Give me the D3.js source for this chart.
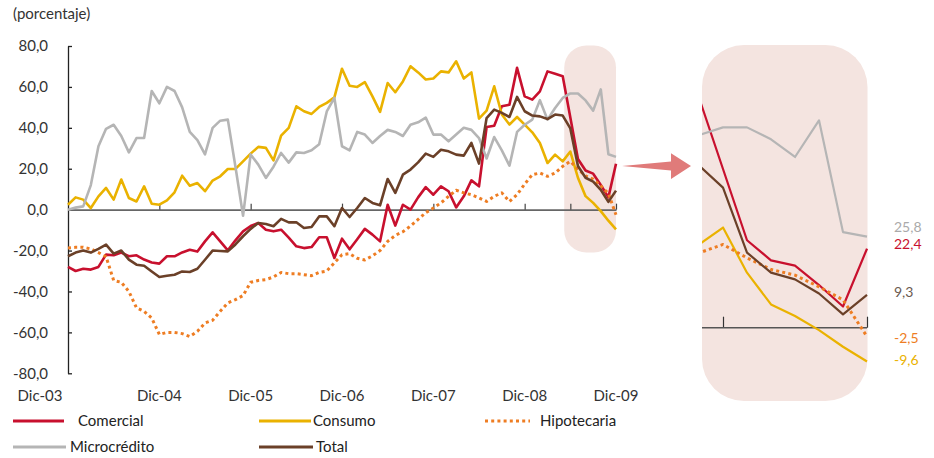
<!DOCTYPE html>
<html>
<head>
<meta charset="utf-8">
<script src="https://cdn.jsdelivr.net/npm/d3@7"></script>
<style>
  body { margin: 0; background: #fff; }
  svg { font-family: Lato, "Open Sans", sans-serif; }
</style>
</head>
<body>
<div id="vis"></div>
<script>
// monthly series, Dic-03 .. Dic-09 (73 months)
const comercial = [-28, -30, -28.9, -29.3, -28, -22, -22.3, -21, -22.8, -22.3, -24.4, -25.8,
  -26.4, -22.8, -22.8, -20.9, -19.6, -20.5, -15.5, -11.1, -15.5, -19.9, -15, -10.6,
  -8, -6.5, -9.8, -10.6, -9.8, -13.7, -17.9, -18.8, -18.3, -13.5, -13.5, -23.6,
  -14.2, -19.4, -14.5, -9.4, -12.2, -15.5, 2.4, -7.8, 2.4, 0, 6, 11,
  7.3, 11.4, 9, 1.1, 6.5, 14.3, 11.4, 40.4, 41, 50.5, 51.3, 69.3,
  55.4, 53.8, 57.8, 67.6, 66.4, 65.2, 45, 24.8, 19.1, 17.6, 12.1, 6, 22.4];
const consumo = [2.4, 6, 4.9, 0.8, 6.5, 10.6, 4.9, 14.7, 5.7, 4, 11.4, 2.9,
  2.4, 4.5, 8.5, 16.6, 11.7, 13, 9, 14.2, 16.3, 19.9, 19.9, 23.6,
  27.4, 30.7, 30.2, 24.1, 36.2, 40, 50.5, 48.1, 46.8, 50.2, 52.2, 54.9,
  68.9, 60.6, 60, 62.3, 55.4, 47.8, 61.9, 57.4, 62.7, 70.1, 67.1, 63.6,
  64.1, 67.6, 67.1, 72.5, 64.1, 67.1, 44.5, 48.4, 60.3, 46.5, 41.6, 45.3,
  41.6, 37.8, 32.6, 22.8, 26.9, 23.6, 28.4, 15.6, 6.6, 3.3, -0.7, -5.4, -9.6];
const hipotecaria = [-18.7, -18.4, -18.4, -19.2, -21, -23, -34.6, -35.5, -40, -48, -49.7, -53,
  -61, -60, -60, -60.6, -62, -59.5, -55.4, -54.1, -49.7, -45.6, -44, -42,
  -35.5, -34.6, -34.2, -32.9, -30.7, -31.3, -31.3, -31.8, -32.3, -30.7, -30, -26,
  -22, -21.5, -23.8, -24.6, -22.6, -20, -15.5, -12.6, -10.8, -8, -4.8, -1.5,
  0.8, 3.3, 6.5, 9.5, 8.2, 7.3, 5.7, 4, 6.5, 8.2, 4, 7.3,
  12.5, 17.1, 17.9, 16.3, 17.9, 21.2, 23.6, 19.8, 16.5, 14.9, 11.6, 7.9, -2.5];
const microcredito = [0, 1, 1.6, 12, 31, 39.5, 41.5, 36, 28, 35, 35, 58,
  52, 60, 58, 50, 38, 34, 27, 40, 43.5, 44, 21, -3,
  27, 22, 15.5, 21, 27.7, 23, 28, 27.7, 29, 32, 48, 54.6,
  31, 29, 38, 36.7, 32.6, 36, 39, 38, 36, 41.5, 42.7, 45,
  36.7, 36.7, 33.4, 36.7, 40, 39, 35, 25, 35.5, 29, 21.5, 38,
  41.5, 44, 53.5, 44, 49.7, 54.6, 56.8, 56.8, 53.4, 48.4, 58.8, 27.1, 25.8];
const total = [-22.8, -21, -20, -21, -19.2, -17.1, -21.5, -20, -24.4, -26.9, -27.4, -30.2,
  -32.9, -32.3, -31.8, -30.2, -30.5, -28.9, -24.5, -20, -20.2, -20.4, -17, -13,
  -9.4, -6.5, -7, -8.1, -4.5, -6.2, -6.2, -9, -8.5, -3.3, -3.3, -8.1,
  0.8, -3.6, 0.8, 5.7, 3.3, 2.1, 15, 8.2, 17.1, 19.6, 23.1, 27.4,
  25.8, 29.3, 28.5, 26.9, 26.4, 32.6, 22.5, 44.8, 48.9, 47.3, 45.3, 55.1,
  48.1, 46, 45.6, 44.3, 46.5, 46, 39.7, 21.3, 15.6, 13.7, 9.7, 3.8, 9.3];

const seriesNames = ["Comercial", "Consumo", "Hipotecaria", "Microcrédito", "Total"];
const xLabels = ["Dic-03", "Dic-04", "Dic-05", "Dic-06", "Dic-07", "Dic-08", "Dic-09"];
const yTicks = [-80, -60, -40, -20, 0, 20, 40, 60, 80];

const series = [
  { name: seriesNames[0], values: comercial, color: "#c8102e", dash: null },
  { name: seriesNames[1], values: consumo, color: "#eab200", dash: null },
  { name: seriesNames[2], values: hipotecaria, color: "#ee7d23", dash: "3,3.2" },
  { name: seriesNames[3], values: microcredito, color: "#b5b5b5", dash: null },
  { name: seriesNames[4], values: total, color: "#6b4028", dash: null },
];

const W = 934, H = 458;
const fmt = d3.formatLocale({ decimal: ",", thousands: ".", grouping: [3], currency: ["", ""], minus: "-" });
const f1 = fmt.format(".1f");

// main chart scales
const x = d3.scaleLinear().domain([0, 72]).range([68, 616]);
const y = d3.scaleLinear().domain([-80, 80]).range([373.3, 46]);

// zoom panel scales
const xz = d3.scaleLinear().domain([66, 72]).range([723, 867]);
const yz = d3.scaleLinear().domain([0, 25.8]).range([327.7, 236.7]);

const svg = d3.select("#vis").append("svg")
  .attr("width", W)
  .attr("height", H);

svg.append("text")
  .attr("x", 13).attr("y", 19)
  .attr("font-size", 15).attr("fill", "#333")
  .text("(porcentaje)");

// highlight band behind the last months
svg.append("rect")
  .attr("x", x(65.2)).attr("y", 45.5)
  .attr("width", x(72) - x(65.2)).attr("height", 207)
  .attr("rx", 22).attr("ry", 22)
  .attr("fill", "#f4e4e0");

// y axis
const yAxis = d3.axisLeft(y).tickValues(yTicks).tickSizeInner(-4).tickSizeOuter(0)
  .tickPadding(20).tickFormat(f1);
const gy = svg.append("g").attr("transform", `translate(${x(0)},0)`).call(yAxis);
gy.select(".domain").attr("stroke", "#222").attr("stroke-width", 1.3);
gy.selectAll(".tick line").attr("stroke", "#222").attr("stroke-width", 1.3);
gy.selectAll(".tick text").attr("font-size", 15).attr("fill", "#333")
  .attr("font-family", "Lato, sans-serif");

// x axis on the zero line, ticks pointing up
const xAxis = d3.axisTop(x).tickValues([12, 24, 36, 48, 60, 66, 72])
  .tickSize(6).tickSizeOuter(0).tickFormat("");
const gx = svg.append("g").attr("transform", `translate(0,${y(0)})`).call(xAxis);
gx.select(".domain").attr("stroke", "#666").attr("stroke-width", 1.6);
gx.selectAll(".tick line").attr("stroke", "#444").attr("stroke-width", 1.2);

// category labels at the bottom
svg.append("g").selectAll("text")
  .data(xLabels)
  .join("text")
  .attr("x", (d, i) => x(i * 12) + (i === 0 ? -28 : 0))
  .attr("y", 401)
  .attr("text-anchor", "middle")
  .attr("font-size", 15).attr("fill", "#333")
  .text(d => d);

const line = d3.line().x((d, i) => x(i)).y(d => y(d));

svg.append("g").selectAll("path")
  .data(series)
  .join("path")
  .attr("d", s => line(s.values))
  .attr("fill", "none")
  .attr("stroke", s => s.color)
  .attr("stroke-width", s => s.dash ? 3 : 2.6)
  .attr("stroke-dasharray", s => s.dash)
  .attr("stroke-linejoin", "round");

// arrow
svg.append("path")
  .attr("d", "M622,166 L671,161.5 L671,153.3 L691,166 L671,179 L671,170.5 Z")
  .attr("fill", "#e07b7a");

// zoom panel
svg.append("rect")
  .attr("x", 702).attr("y", 45)
  .attr("width", 165.5).attr("height", 356)
  .attr("rx", 42).attr("ry", 42)
  .attr("fill", "#f4e4e0");

svg.append("clipPath").attr("id", "zclip")
  .append("rect").attr("x", 702).attr("y", 40).attr("width", 166).attr("height", 370);

const gz = svg.append("g");
const gzx = gz.append("g").attr("transform", `translate(0,${yz(0)})`)
  .call(d3.axisTop(xz).tickValues([66, 72]).tickSize(11).tickSizeOuter(0).tickFormat(""));
gzx.select(".domain").attr("stroke", "none");
gzx.selectAll(".tick line").attr("stroke", "#333").attr("stroke-width", 1.2);
gz.append("line")
  .attr("x1", 702).attr("x2", xz(72))
  .attr("y1", yz(0)).attr("y2", yz(0))
  .attr("stroke", "#555").attr("stroke-width", 1.6);

const lineZ = d3.line().x(d => xz(d.i)).y(d => yz(d.v));
gz.append("g").attr("clip-path", "url(#zclip)")
  .selectAll("path")
  .data(series)
  .join("path")
  .attr("d", s => lineZ(s.values.map((v, i) => ({ i, v })).filter(d => d.i >= 64)))
  .attr("fill", "none")
  .attr("stroke", s => s.color)
  .attr("stroke-width", s => s.dash ? 3 : 2.2)
  .attr("stroke-dasharray", s => s.dash)
  .attr("stroke-linejoin", "round");

// end value labels
const endLabels = [
  { s: series[3], dy: -10, color: "#aaaaaa" },
  { s: series[0], dy: -5, color: "#c8102e" },
  { s: series[4], dy: -3, color: "#6b5a50" },
  { s: series[2], dy: 1.5, color: "#ee7d23" },
  { s: series[1], dy: -1.5, color: "#eab200" },
];
gz.selectAll("text.end")
  .data(endLabels)
  .join("text")
  .attr("class", "end")
  .attr("x", 894)
  .attr("y", d => yz(d.s.values[72]) + d.dy)
  .attr("dy", "0.35em")
  .attr("font-size", 14)
  .attr("fill", d => d.color)
  .text(d => f1(d.s.values[72]));

// legend
const legendPos = [
  { x1: 13, x2: 64, tx: 78, y: 421 },
  { x1: 259, x2: 311, tx: 313, y: 421 },
  { x1: 485, x2: 530, tx: 540, y: 421 },
  { x1: 13, x2: 66, tx: 70, y: 447 },
  { x1: 259, x2: 313, tx: 316, y: 447 },
];
const lg = svg.append("g").selectAll("g")
  .data(series)
  .join("g");
lg.append("line")
  .attr("x1", (d, i) => legendPos[i].x1).attr("x2", (d, i) => legendPos[i].x2)
  .attr("y1", (d, i) => legendPos[i].y).attr("y2", (d, i) => legendPos[i].y)
  .attr("stroke", d => d.color)
  .attr("stroke-width", 3)
  .attr("stroke-dasharray", d => d.dash);
lg.append("text")
  .attr("x", (d, i) => legendPos[i].tx)
  .attr("y", (d, i) => legendPos[i].y)
  .attr("dy", "0.35em")
  .attr("font-size", 15).attr("fill", "#222")
  .text(d => d.name);
</script>
</body>
</html>
